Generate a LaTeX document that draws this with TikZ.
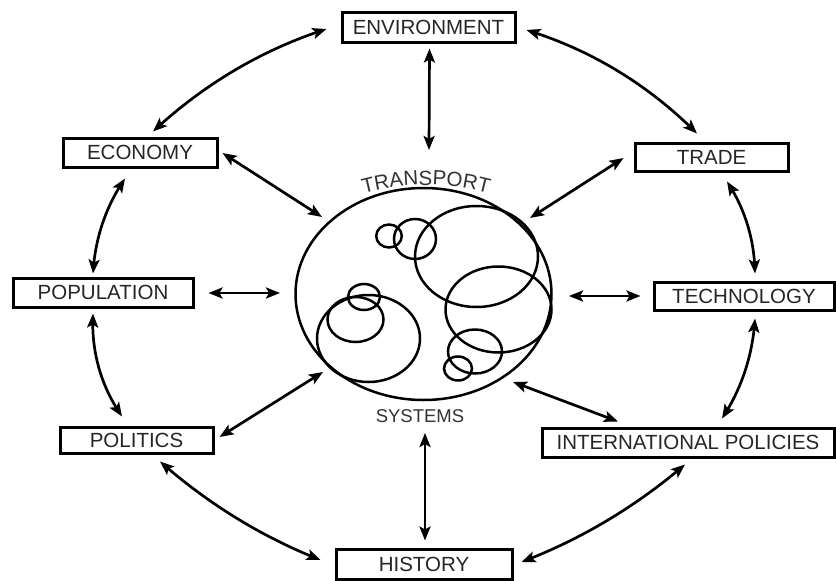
\documentclass[tikz,border=0pt]{standalone}
\usepackage{fontspec}
\setmainfont{Liberation Sans}
\usetikzlibrary{arrows.meta,bending,decorations.text}
\definecolor{txt}{HTML}{262626}
\definecolor{txtb}{HTML}{333333}
\begin{document}
\begin{tikzpicture}[x=1pt,y=-1pt,
  box/.style={draw=black, line width=3pt, inner sep=0pt, text=txt,
    font=\fontsize{20.5}{20.5}\selectfont},
  link/.style={line width=2.7pt,
    {Stealth[length=14pt,width=11pt,inset=3pt]}-{Stealth[length=14pt,width=11pt,inset=3pt]}},
  ring/.style={line width=2.5pt}]
\fill[white] (0,0) rectangle (836,581);
\useasboundingbox (0,0) rectangle (836,581);

% boxes
\node[box, minimum width=173pt, minimum height=30pt] (env)   at (428.5,27)  {ENVIRONMENT};
\node[box, minimum width=154pt, minimum height=29pt] (econ)  at (140,152.5) {ECONOMY};
\node[box, minimum width=180pt, minimum height=29pt] (pop)   at (103,292.5) {POPULATION};
\node[box, minimum width=153pt, minimum height=28pt] (trade) at (711.5,157) {TRADE};
\node[box, minimum width=180pt, minimum height=28pt] (tech)  at (744,296)   {TECHNOLOGY};
\node[box, minimum width=153pt, minimum height=26pt] (pol)   at (136.5,440) {POLITICS};
\node[box, minimum width=292pt, minimum height=29pt] (intl)  at (688,442.5) {INTERNATIONAL POLICIES};
\node[box, minimum width=176pt, minimum height=30pt] (hist)  at (424,564)   {HISTORY};

% central transport system
\draw[ring] (423.5,294) ellipse[x radius=128, y radius=106];
\draw[ring] (389,236) ellipse[x radius=12.8, y radius=11.5];
\draw[ring] (415,239) ellipse[x radius=21, y radius=20];
\draw[ring] (476.5,256.5) ellipse[x radius=61.5, y radius=50.5];
\draw[ring] (498.5,309.5) ellipse[x radius=53, y radius=43];
\draw[ring] (475,351.5) ellipse[x radius=27, y radius=22];
\draw[ring] (458,368.5) ellipse[x radius=14, y radius=12];
\draw[ring] (368.5,338.5) ellipse[x radius=51.5, y radius=43.5];
\draw[ring] (355.5,319.5) ellipse[x radius=28, y radius=22.5];
\draw[ring] (364,297) ellipse[x radius=16, y radius=13];

\path[decorate, decoration={text along path, text align=center,
  text={|\fontsize{20.5}{20.5}\selectfont\color{txtb}|TRANSPORT}}]
  (426,425) ++(245:240) arc[start angle=245, end angle=295, radius=240];
\node[text=txtb, font=\fontsize{18.5}{18.5}\selectfont, inner sep=0pt] (sys) at (420,416) {SYSTEMS};

% connector end points at the centre
\coordinate (cN)  at (429,150);
\coordinate (cNW) at (322,217);
\coordinate (cNE) at (530,218);
\coordinate (cW)  at (280,293);
\coordinate (cE)  at (569,296);
\coordinate (cSW) at (323,372);
\coordinate (cSE) at (513,382);
\coordinate (cS)  at (425,433);

% radial connectors
\draw[link] ([shift={(1,5)}]env.south) -- (cN);
\draw[link] ([shift={(4,0.5)}]econ.east) -- (cNW);
\draw[link] ([shift={(-10,1)}]trade.west) -- (cNE);
\draw[link] ([shift={(14,0.5)}]pop.east) -- (cW);
\draw[link] ([shift={(-12,0)}]tech.west) -- (cE);
\draw[link] ([shift={(5,-3)}]pol.east) -- (cSW);
\draw[link] ([shift={(-70,-5)}]intl.north) -- (cSE);
\draw[link] ([shift={(1,-7)}]hist.north) -- (cS);

% ring connectors
\draw[link] ([shift={(-14,2)}]env.west) .. controls (262,49.7) and (203.7,84.3) .. ([shift={(13,-5)}]econ.north);
\draw[link] ([shift={(10,3)}]env.east) .. controls (591.3,50) and (648.7,85) .. ([shift={(-14.5,-8)}]trade.north);
\draw[link] ([shift={(-15,10)}]econ.south) .. controls (105.5,206.8) and (94.8,239.5) .. ([shift={(-10,-3)}]pop.north);
\draw[link] ([shift={(-10,5)}]pop.south) .. controls (91,350.7) and (100.7,386) .. ([shift={(-14.5,-9)}]pol.north);
\draw[link] ([shift={(23.5,7)}]pol.south) .. controls (207.7,503.5) and (261.7,536.9) .. ([shift={(-14,-4)}]hist.west);
\draw[link] ([shift={(-3,6)}]intl.south) .. controls (636.2,506.3) and (581.2,539.3) .. ([shift={(8,-2)}]hist.east);
\draw[link] ([shift={(15.5,9)}]trade.south) .. controls (745.3,209) and (754.6,240.7) .. ([shift={(11,-7)}]tech.north);
\draw[link] ([shift={(11,7)}]tech.south) .. controls (752.9,354.2) and (741.9,388.5) .. ([shift={(34,-8)}]intl.north);
\end{tikzpicture}
\end{document}
